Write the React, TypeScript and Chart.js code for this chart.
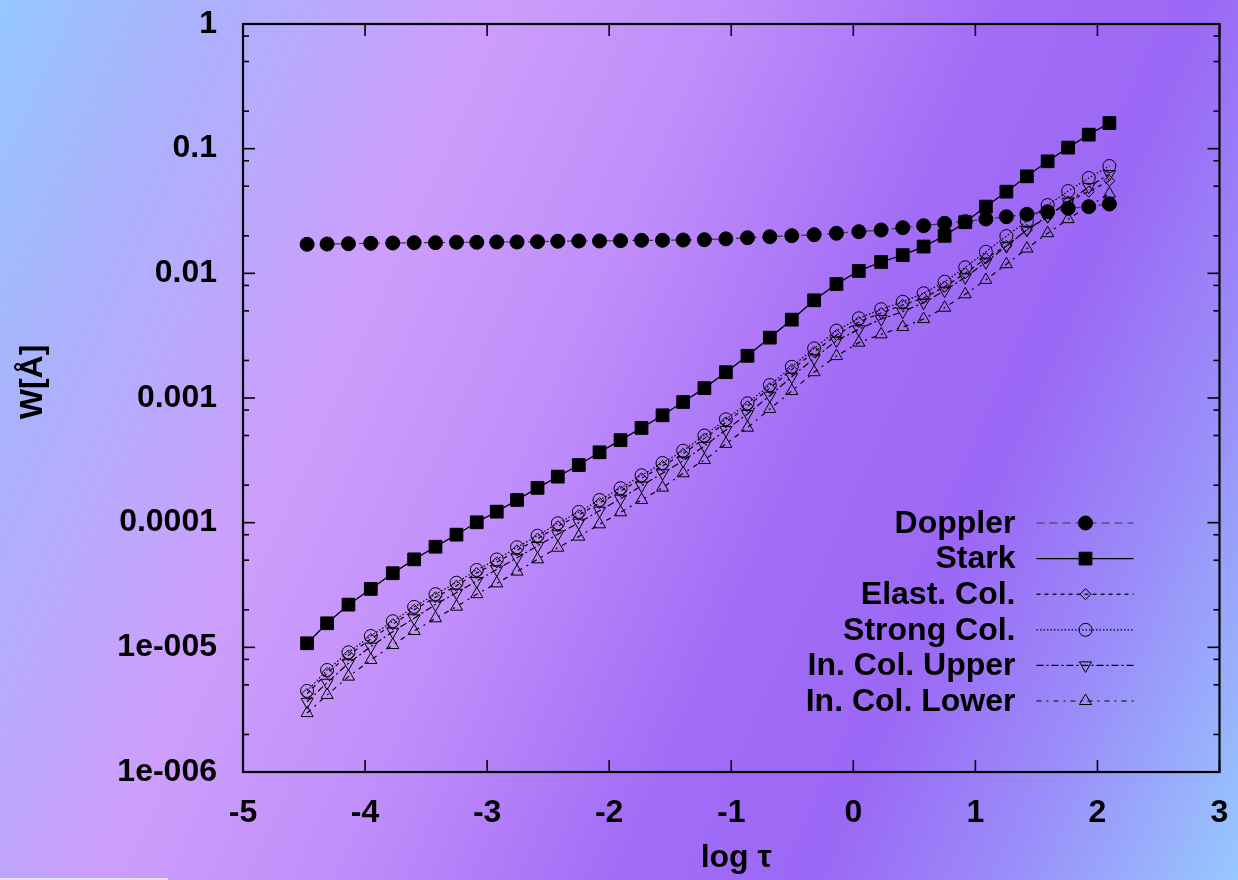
import React, { useEffect, useRef } from 'react';
import { Chart, registerables } from 'chart.js';
import { drawPoint } from 'chart.js/helpers';

Chart.register(...registerables);

// ---- data ----
const logTau = [
  -4.475, -4.311, -4.136, -3.953, -3.773, -3.598, -3.423, -3.251, -3.085, -2.921,
  -2.755, -2.587, -2.421, -2.249, -2.079, -1.907, -1.735, -1.563, -1.394, -1.22,
  -1.044, -0.867, -0.684, -0.504, -0.321, -0.138, 0.045, 0.228, 0.405, 0.576,
  0.748, 0.917, 1.086, 1.254, 1.422, 1.592, 1.76, 1.929, 2.098,
];

const doppler = [
  0.0171, 0.01718, 0.01729, 0.01742, 0.01751, 0.01761, 0.01761, 0.01775, 0.01775, 0.01784,
  0.01784, 0.01795, 0.01808, 0.01817, 0.01817, 0.01828, 0.01841, 0.01841, 0.0185, 0.01862,
  0.0189, 0.0193, 0.01967, 0.02004, 0.02042, 0.02096, 0.02158, 0.02226, 0.02323, 0.02411,
  0.02519, 0.02596, 0.02728, 0.02847, 0.02977, 0.03122, 0.03325, 0.03424, 0.03598,
];

const stark = [
  1.078e-5, 1.56e-5, 2.2e-5, 2.94e-5, 3.93e-5, 5.08e-5, 6.41e-5, 8.01e-5, 1.007e-4, 1.225e-4,
  1.52e-4, 1.9e-4, 2.34e-4, 2.9e-4, 3.67e-4, 4.59e-4, 5.75e-4, 7.27e-4, 9.29e-4, 1.2e-3,
  1.61e-3, 2.18e-3, 3.05e-3, 4.25e-3, 6.08e-3, 8.21e-3, 1.045e-2, 1.233e-2, 1.4e-2, 1.64e-2,
  2.0e-2, 2.57e-2, 3.43e-2, 4.52e-2, 6.0e-2, 7.92e-2, 0.102, 0.1295, 0.1606,
];

const elastCol = [
  4.23e-6, 6.23e-6, 8.63e-6, 1.167e-5, 1.53e-5, 2.0e-5, 2.52e-5, 3.12e-5, 3.95e-5, 4.8e-5,
  6.0e-5, 7.44e-5, 9.35e-5, 1.152e-4, 1.438e-4, 1.786e-4, 2.27e-4, 2.85e-4, 3.57e-4, 4.73e-4,
  6.38e-4, 8.58e-4, 1.2e-3, 1.69e-3, 2.34e-3, 3.2e-3, 4.07e-3, 4.81e-3, 5.57e-3, 6.34e-3,
  7.81e-3, 1.0e-2, 1.32e-2, 1.66e-2, 2.23e-2, 2.83e-2, 3.76e-2, 4.52e-2, 5.53e-2,
];

const strongCol = [
  4.47e-6, 6.58e-6, 9.12e-6, 1.233e-5, 1.62e-5, 2.11e-5, 2.67e-5, 3.3e-5, 4.17e-5, 5.07e-5,
  6.35e-5, 7.86e-5, 9.89e-5, 1.218e-4, 1.52e-4, 1.888e-4, 2.4e-4, 3.01e-4, 3.78e-4, 5.0e-4,
  6.75e-4, 9.07e-4, 1.27e-3, 1.78e-3, 2.5e-3, 3.47e-3, 4.36e-3, 5.15e-3, 5.92e-3, 6.92e-3,
  8.57e-3, 1.118e-2, 1.49e-2, 1.99e-2, 2.63e-2, 3.53e-2, 4.57e-2, 5.82e-2, 7.26e-2,
];

const inColUpper = [
  3.66e-6, 5.2e-6, 7.45e-6, 1.012e-5, 1.336e-5, 1.71e-5, 2.21e-5, 2.74e-5, 3.4e-5, 4.21e-5,
  5.24e-5, 6.5e-5, 8.07e-5, 1.0e-4, 1.248e-4, 1.556e-4, 1.98e-4, 2.49e-4, 3.14e-4, 4.12e-4,
  5.54e-4, 7.45e-4, 1.044e-3, 1.48e-3, 2.08e-3, 2.88e-3, 3.56e-3, 4.3e-3, 4.92e-3, 5.82e-3,
  7.26e-3, 9.29e-3, 1.227e-2, 1.65e-2, 2.23e-2, 2.87e-2, 3.76e-2, 4.93e-2, 6.26e-2,
];

const inColLower = [
  2.97e-6, 4.15e-6, 5.82e-6, 7.92e-6, 1.044e-5, 1.352e-5, 1.71e-5, 2.12e-5, 2.67e-5, 3.26e-5,
  4.05e-5, 5.08e-5, 6.3e-5, 7.73e-5, 9.7e-5, 1.211e-4, 1.52e-4, 1.91e-4, 2.49e-4, 3.18e-4,
  4.28e-4, 5.78e-4, 8.16e-4, 1.138e-3, 1.61e-3, 2.17e-3, 2.78e-3, 3.24e-3, 3.71e-3, 4.3e-3,
  5.3e-3, 6.79e-3, 8.85e-3, 1.184e-2, 1.58e-2, 2.1e-2, 2.72e-2, 3.47e-2, 4.35e-2,
];

const seriesLabels = ['Doppler', 'Stark', 'Elast. Col.', 'Strong Col.', 'In. Col. Upper', 'In. Col. Lower'];

const xTickValues = [-5, -4, -3, -2, -1, 0, 1, 2, 3];
const xTickLabels = ['-5', '-4', '-3', '-2', '-1', '0', '1', '2', '3'];
const yTickValues = [1e-6, 1e-5, 1e-4, 1e-3, 1e-2, 1e-1, 1];
const yTickLabels = ['1e-006', '1e-005', '0.0001', '0.001', '0.01', '0.1', '1'];
const yMinorMultipliers = [2, 5, 8];

const xTitle = 'log τ';
const yTitle = 'W[Å]';

const FONT_FAMILY = '"Liberation Sans", Arial, Helvetica, sans-serif';
const FONT_SIZE = 32;

const toPoints = (ys: number[]) => ys.map((y, i) => ({ x: logTau[i], y }));

const framePlugin = {
  id: 'gnuplotFrame',
  afterDatasetsDraw(chart: any) {
    const { ctx, chartArea: a, scales } = chart;
    const xs = scales.x;
    const ys = scales.y;
    ctx.save();
    ctx.strokeStyle = '#000';
    ctx.setLineDash([]);
    ctx.lineWidth = 1.6;
    const seg = (x1: number, y1: number, x2: number, y2: number) => {
      ctx.beginPath();
      ctx.moveTo(x1, y1);
      ctx.lineTo(x2, y2);
      ctx.stroke();
    };
    const major = 12;
    const minor = 6;
    yTickValues.forEach((v) => {
      const p = ys.getPixelForValue(v);
      seg(a.left, p, a.left + major, p);
      seg(a.right, p, a.right - major, p);
    });
    yTickValues.forEach((d) => {
      yMinorMultipliers.forEach((m) => {
        const v = d * m;
        if (v >= 1) return;
        const p = ys.getPixelForValue(v);
        seg(a.left, p, a.left + minor, p);
        seg(a.right, p, a.right - minor, p);
      });
    });
    xTickValues.forEach((v) => {
      const p = xs.getPixelForValue(v);
      seg(p, a.bottom, p, a.bottom - major);
      seg(p, a.top, p, a.top + major);
    });
    ctx.lineWidth = 2.2;
    ctx.strokeRect(a.left, a.top, a.right - a.left, a.bottom - a.top);

    // axis titles
    ctx.fillStyle = '#000';
    ctx.font = `bold ${FONT_SIZE}px ${FONT_FAMILY}`;
    ctx.textAlign = 'center';
    ctx.textBaseline = 'middle';
    ctx.fillText(xTitle, (a.left + a.right) / 2 + 5, a.bottom + 86);
    ctx.save();
    ctx.translate(a.left - 210, (a.top + a.bottom) / 2 - 16);
    ctx.rotate(-Math.PI / 2);
    ctx.fillText(yTitle, 0, 0);
    ctx.restore();

    // legend (gnuplot style key)
    const textRight = a.right - 204;
    const lineX1 = a.right - 183;
    const lineX2 = a.right - 86;
    const markX = a.right - 134;
    const row0 = a.top + 499;
    const rowStep = 35.6;
    chart.data.datasets.forEach((ds: any, i: number) => {
      const y = row0 + i * rowStep;
      ctx.fillStyle = '#000';
      ctx.textAlign = 'right';
      ctx.textBaseline = 'middle';
      ctx.fillText(ds.label, textRight, y + 1);
      ctx.strokeStyle = ds.borderColor;
      ctx.lineWidth = ds.borderWidth;
      ctx.setLineDash(ds.borderDash || []);
      seg(lineX1, y, lineX2, y);
      ctx.setLineDash([]);
      ctx.strokeStyle = ds.pointBorderColor;
      ctx.fillStyle = ds.pointBackgroundColor;
      ctx.lineWidth = ds.pointBorderWidth;
      drawPoint(ctx, {
        pointStyle: ds.pointStyle,
        radius: ds.pointRadius,
        rotation: ds.pointRotation || 0,
        borderWidth: ds.pointBorderWidth,
      }, markX, y);
    });
    ctx.restore();
  },
};

const makeDataset = (label: string, ys: number[], style: any) => ({
  label,
  data: toPoints(ys),
  borderColor: '#000',
  borderWidth: 1.2,
  pointBorderColor: '#000',
  pointBackgroundColor: 'rgba(0,0,0,0)',
  pointBorderWidth: 1,
  tension: 0,
  fill: false,
  ...style,
});

export default function App() {
  const canvasRef = useRef<HTMLCanvasElement | null>(null);

  useEffect(() => {
    const canvas = canvasRef.current;
    if (!canvas) return;
    const datasets = [
      makeDataset(seriesLabels[0], doppler, {
        borderColor: 'rgba(40,40,40,0.85)', borderDash: [8, 5], pointStyle: 'circle', pointRadius: 7,
        pointBackgroundColor: '#000', order: 6,
      }),
      makeDataset(seriesLabels[1], stark, {
        borderWidth: 1.3, borderDash: [], pointStyle: 'rect', pointRadius: 9,
        pointBackgroundColor: '#000', order: 5,
      }),
      makeDataset(seriesLabels[2], elastCol, {
        borderDash: [4, 4], pointStyle: 'rectRot', pointRadius: 5.5, order: 4,
      }),
      makeDataset(seriesLabels[3], strongCol, {
        borderDash: [1.5, 2], pointStyle: 'circle', pointRadius: 6.5, order: 3,
      }),
      makeDataset(seriesLabels[4], inColUpper, {
        borderDash: [7, 3, 2, 3], pointStyle: 'triangle', pointRotation: 180, pointRadius: 7, order: 2,
      }),
      makeDataset(seriesLabels[5], inColLower, {
        borderDash: [5, 5, 2, 5], pointStyle: 'triangle', pointRadius: 7, order: 1,
      }),
    ];

    const font = { family: FONT_FAMILY, size: FONT_SIZE, weight: 'bold' as const };

    const chart = new Chart(canvas, {
      type: 'line',
      data: { datasets },
      options: {
        animation: false,
        responsive: false,
        events: [],
        layout: { padding: { left: 0, right: 18.5, top: 24, bottom: 0 } },
        plugins: {
          legend: { display: false },
          tooltip: { enabled: false },
        },
        scales: {
          x: {
            type: 'linear',
            min: -5,
            max: 3,
            grid: { display: false, drawTicks: false },
            border: { display: false },
            afterBuildTicks: (axis: any) => {
              axis.ticks = xTickValues.map((v) => ({ value: v }));
            },
            afterFit: (scale: any) => {
              scale.height = 108;
              scale.paddingLeft = 0;
              scale.paddingRight = 0;
            },
            ticks: {
              autoSkip: false,
              maxRotation: 0,
              padding: 22,
              color: '#000',
              font,
              callback: (value: any) => {
                const i = xTickValues.indexOf(Number(value));
                return i >= 0 ? xTickLabels[i] : '';
              },
            },
          },
          y: {
            type: 'logarithmic',
            min: 1e-6,
            max: 1,
            grid: { display: false, drawTicks: false },
            border: { display: false },
            afterBuildTicks: (axis: any) => {
              axis.ticks = yTickValues.map((v) => ({ value: v }));
            },
            afterFit: (scale: any) => {
              scale.width = 243;
              scale.paddingTop = 0;
              scale.paddingBottom = 0;
            },
            ticks: {
              autoSkip: false,
              padding: 26,
              color: '#000',
              font,
              callback: (value: any) => {
                const v = Number(value);
                const i = yTickValues.findIndex((t) => Math.abs(Math.log10(t) - Math.log10(v)) < 1e-6);
                return i >= 0 ? yTickLabels[i] : '';
              },
            },
          },
        },
      },
      plugins: [framePlugin],
    } as any);

    return () => chart.destroy();
  }, []);

  return (
    <div
      style={{
        position: 'fixed',
        left: 0,
        top: 0,
        width: 1238,
        height: 880,
        overflow: 'hidden',
        background:
          'linear-gradient(114deg, #96c8ff 0%, #aab2fc 12%, #cd9efc 30%, #bf8efa 45%, #a26cf6 62%, #9b68f5 74%, #9a8ef9 86%, #97c8fe 100%)',
      }}
    >
      <canvas ref={canvasRef} width={1238} height={880} style={{ display: 'block', width: 1238, height: 880 }} />
      <div style={{ position: 'absolute', left: 0, top: 878, width: 168, height: 2, background: '#e4e4e4' }} />
    </div>
  );
}
